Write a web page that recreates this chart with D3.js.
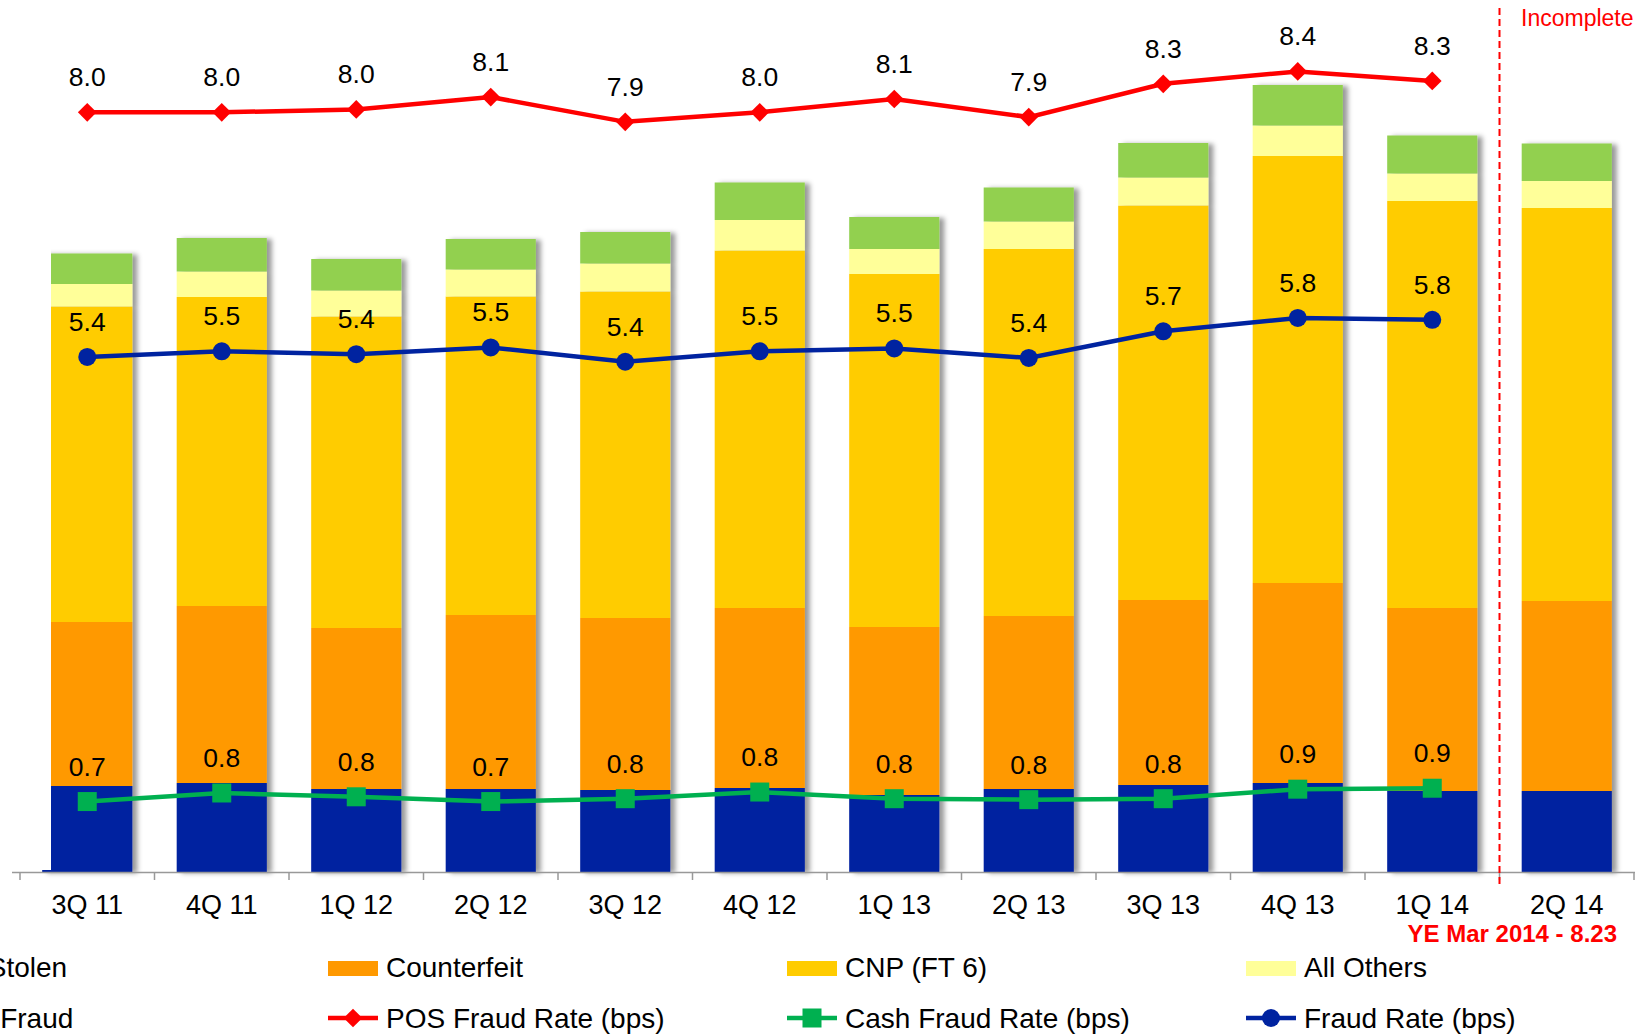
<!DOCTYPE html>
<html>
<head>
<meta charset="utf-8">
<script src="https://cdn.jsdelivr.net/npm/d3@7"></script>
<style>
  body { margin:0; background:#fff; }
  svg { display:block; font-family:"Liberation Sans", Arial, sans-serif; }
</style>
</head>
<body>
<svg id="chart" width="1639" height="1034"></svg>
<script>
// quarters
var categories = ['3Q 11','4Q 11','1Q 12','2Q 12','3Q 12','4Q 12','1Q 13','2Q 13','3Q 13','4Q 13','1Q 14','2Q 14'];

// stacked bar segments (arbitrary units)
var lostStolen  = [17.2, 17.8, 16.6, 16.6, 16.4, 16.8, 15.4, 16.6, 17.4, 17.8, 16.2, 16.2];
var counterfeit = [32.8, 35.4, 32.2, 34.8, 34.4, 36.0, 33.6, 34.6, 37.0, 40.0, 36.6, 38.0];
var cnp         = [63.1, 61.8, 62.3, 63.7, 65.3, 71.5, 70.6, 73.4, 78.9, 85.4, 81.4, 78.6];
var allOthers   = [4.5, 5.1, 5.2, 5.4, 5.6, 6.1, 5.0, 5.5, 5.6, 6.1, 5.5, 5.4];
var cashFraud   = [6.1, 6.7, 6.3, 6.1, 6.3, 7.5, 6.4, 6.8, 6.9, 8.1, 7.6, 7.5];

// rates in bps (no value for the incomplete quarter)
var posRate   = [7.98, 7.98, 8.01, 8.14, 7.88, 7.98, 8.12, 7.93, 8.28, 8.41, 8.31];
var cashRate  = [0.74, 0.83, 0.79, 0.74, 0.77, 0.84, 0.77, 0.76, 0.77, 0.87, 0.88];
var fraudRate = [5.41, 5.47, 5.44, 5.51, 5.36, 5.47, 5.50, 5.40, 5.68, 5.82, 5.80];

var barNames  = ['Lost/Stolen','Counterfeit','CNP (FT 6)','All Others','Cash Fraud'];
var barColors = ['#0023a0','#ff9900','#ffcc00','#ffff99','#92d050'];

var svg = d3.select('#chart');
var baseY = 872;

var x = d3.scaleBand().domain(categories).range([20, 1634]).paddingInner(0.33).paddingOuter(0.165);
var yBar = d3.scaleLinear().domain([0, 174.4]).range([baseY, 0]);
var yRate = d3.scaleLinear().domain([0, 9.16]).range([baseY, 0]);

var defs = svg.append('defs');
var f = defs.append('filter').attr('id','shadow').attr('x','-10%').attr('y','-5%').attr('width','130%').attr('height','110%');
f.append('feDropShadow').attr('dx',5).attr('dy',1).attr('stdDeviation',2.5)
  .attr('flood-color','#000').attr('flood-opacity',0.4);

// stacked bars
var rows = categories.map(function(c, i){
  return { cat:c, s0:lostStolen[i], s1:counterfeit[i], s2:cnp[i], s3:allOthers[i], s4:cashFraud[i] };
});
var stack = d3.stack().keys(['s0','s1','s2','s3','s4']);
var stacked = stack(rows);

var barG = svg.append('g').selectAll('g.bar')
  .data(rows.map(function(r, i){ return stacked.map(function(s, k){ return {cat:r.cat, k:k, y0:s[i][0], y1:s[i][1]}; }); }))
  .enter().append('g').attr('class','bar').attr('filter','url(#shadow)');

barG.selectAll('rect')
  .data(function(d){ return d; })
  .enter().append('rect')
  .attr('x', function(d){ return x(d.cat); })
  .attr('width', x.bandwidth())
  .attr('y', function(d){ return yBar(d.y1); })
  .attr('height', function(d){ return yBar(d.y0) - yBar(d.y1); })
  .attr('fill', function(d){ return barColors[d.k]; });

// left edge of the first bar is hidden in the original
svg.append('rect').attr('x',0).attr('y',0).attr('width',51).attr('height',baseY-2).attr('fill','#fff');

// x axis
var axisG = svg.append('g');
axisG.append('line').attr('x1',12).attr('x2',1635).attr('y1',baseY+0.5).attr('y2',baseY+0.5)
  .attr('stroke','#999').attr('stroke-width',1.5);
var tickPos = categories.map(function(c){ return x(c) - x.step()*x.paddingInner()/2; });
tickPos.push(x(categories[categories.length-1]) + x.bandwidth() + x.step()*x.paddingInner()/2);
axisG.selectAll('line.tick').data(tickPos).enter().append('line').attr('class','tick')
  .attr('x1', function(d){ return d; }).attr('x2', function(d){ return d; })
  .attr('y1', baseY).attr('y2', baseY+8).attr('stroke','#999').attr('stroke-width',1.5);
axisG.selectAll('text').data(categories).enter().append('text')
  .attr('x', function(d){ return x(d) + x.bandwidth()/2; })
  .attr('y', 914).attr('text-anchor','middle').attr('font-size',27).attr('fill','#000')
  .text(function(d){ return d; });

// incomplete quarter marker
var splitX = tickPos[11];
svg.append('line').attr('x1',splitX).attr('x2',splitX).attr('y1',8).attr('y2',884)
  .attr('stroke','#ff0000').attr('stroke-width',2).attr('stroke-dasharray','7,4');
svg.append('text').attr('x',1521).attr('y',26).attr('font-size',23).attr('fill','#ff0000').text('Incomplete');
svg.append('text').attr('x',1617).attr('y',942).attr('text-anchor','end').attr('font-size',24)
  .attr('font-weight','bold').attr('fill','#ff0000').text('YE Mar 2014 - 8.23');

// rate lines
var lines = [
  { name:'POS Fraud Rate (bps)', values:posRate, color:'#ff0000', shape:'diamond' },
  { name:'Cash Fraud Rate (bps)', values:cashRate, color:'#00b050', shape:'square' },
  { name:'Fraud Rate (bps)', values:fraudRate, color:'#0023a0', shape:'circle' }
];
var cx = function(i){ return x(categories[i]) + x.bandwidth()/2; };
var lineGen = d3.line().x(function(d, i){ return cx(i); }).y(function(d){ return yRate(d); });

function marker(sel, shape, color, px, py){
  if (shape === 'circle') {
    sel.append('circle').attr('cx',px).attr('cy',py).attr('r',9).attr('fill',color);
  } else if (shape === 'square') {
    sel.append('rect').attr('x',px-9.5).attr('y',py-9.5).attr('width',19).attr('height',19).attr('fill',color);
  } else {
    sel.append('path').attr('d', d3.symbol().type(d3.symbolSquare).size(175)())
      .attr('transform','translate('+px+','+py+') rotate(45)').attr('fill',color);
  }
}

lines.forEach(function(l){
  var g = svg.append('g');
  g.append('path').attr('d', lineGen(l.values)).attr('fill','none')
    .attr('stroke', l.color).attr('stroke-width',4.5);
  l.values.forEach(function(v, i){ marker(g, l.shape, l.color, cx(i), yRate(v)); });
  g.selectAll('text').data(l.values).enter().append('text')
    .attr('x', function(d, i){ return cx(i); })
    .attr('y', function(d){ return yRate(d) - 26; })
    .attr('text-anchor','middle').attr('font-size',26.5).attr('fill','#000')
    .text(function(d){ return d3.format('.1f')(d); });
});

// legend
var legX0 = -131, legStep = 459;
var leg1 = svg.append('g');
barNames.slice(0,4).forEach(function(n, i){
  var lx = legX0 + i*legStep;
  leg1.append('rect').attr('x',lx).attr('y',961).attr('width',50).attr('height',15).attr('fill',barColors[i]);
  leg1.append('text').attr('x',lx+58).attr('y',977).attr('font-size',28).attr('fill','#000').text(n);
});
var leg2 = svg.append('g');
leg2.append('rect').attr('x',legX0).attr('y',1011).attr('width',50).attr('height',15).attr('fill',barColors[4]);
leg2.append('text').attr('x',legX0+58).attr('y',1028).attr('font-size',28).attr('fill','#000').text(barNames[4]);
lines.forEach(function(l, i){
  var lx = legX0 + (i+1)*legStep;
  leg2.append('line').attr('x1',lx).attr('x2',lx+50).attr('y1',1018).attr('y2',1018)
    .attr('stroke',l.color).attr('stroke-width',4.5);
  marker(leg2, l.shape, l.color, lx+25, 1018);
  leg2.append('text').attr('x',lx+58).attr('y',1028).attr('font-size',28).attr('fill','#000').text(l.name);
});
</script>
</body>
</html>
